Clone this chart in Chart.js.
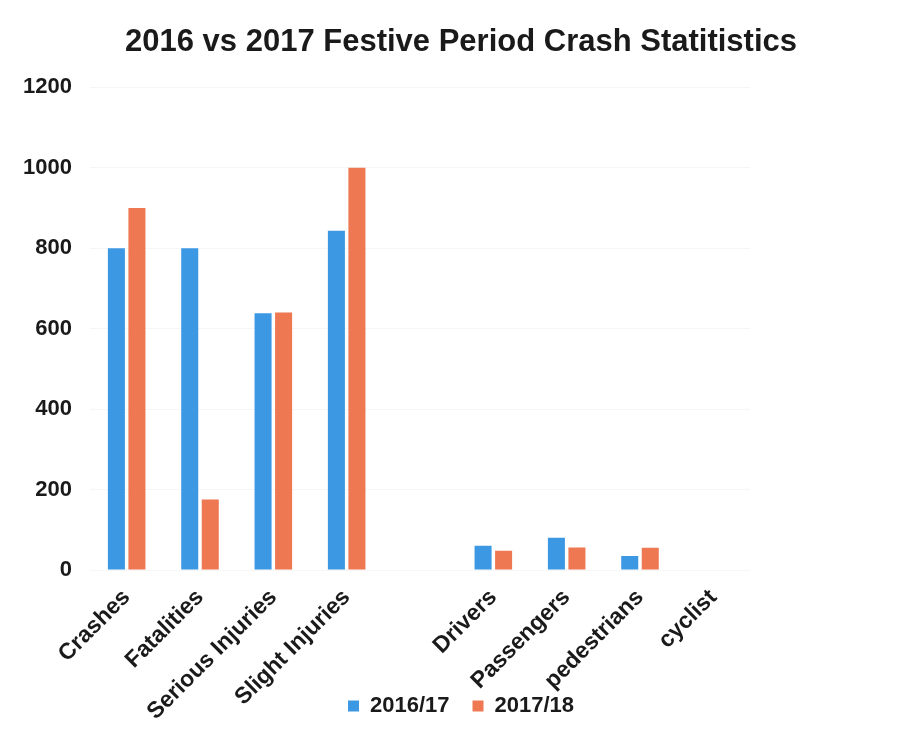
<!DOCTYPE html>
<html>
<head>
<meta charset="utf-8">
<title>Festive Period Crash Statistics</title>
<script src="https://cdn.jsdelivr.net/npm/chart.js@4.4.1/dist/chart.umd.min.js"></script>
<style>
  html, body { margin: 0; padding: 0; background: #fff; }
  #wrap { width: 922px; height: 741px; }
</style>
</head>
<body>
<div id="wrap"><canvas id="crashChart" width="922" height="741"></canvas></div>
<script>
// categories and series (blank slot separates totals from road-user groups)
const categories = ['Crashes', 'Fatalities', 'Serious Injuries', 'Slight Injuries', '', 'Drivers', 'Passengers', 'pedestrians', 'cyclist'];
const season2016 = [800, 800, 638, 843, null, 60, 80, 35, 0];
const season2017 = [900, 175, 640, 1000, null, 48, 56, 55, 0];
const yTicks = [0, 200, 400, 600, 800, 1000, 1200];

const FONT = "'Liberation Sans', Arial, sans-serif";
const TEXT = '#1a1a1a';
const BLUE = '#3d98e3';
const ORANGE = '#ee7852';
const LEGEND_FONT = 22;
const LEGEND_PAD = 23;

// the legend overlaps the lower end of the rotated category labels: it only
// reserves 1px in the layout and gets its real box back here
const placeLegend = {
    id: 'placeLegend',
    afterLayout(chart) {
        const lg = chart.legend;
        if (!lg) return;
        lg.top = 706 - LEGEND_PAD - LEGEND_FONT / 2;
        lg.height = LEGEND_FONT + 2 * LEGEND_PAD + 10;
        lg.bottom = lg.top + lg.height;
    },
};

const ctx = document.getElementById('crashChart').getContext('2d');
new Chart(ctx, {
    type: 'bar',
    data: {
        labels: categories,
        datasets: [
            { label: '2016/17', data: season2016, backgroundColor: BLUE, borderWidth: 0 },
            { label: '2017/18', data: season2017, backgroundColor: ORANGE, borderWidth: 0 },
        ],
    },
    plugins: [placeLegend],
    options: {
        responsive: false,
        animation: false,
        categoryPercentage: 0.56,
        barPercentage: 0.83,
        layout: { padding: { left: 20, right: 20, top: 0, bottom: 0 } },
        plugins: {
            title: {
                display: true,
                text: '2016 vs 2017 Festive Period Crash Statitistics',
                color: TEXT,
                font: { family: FONT, size: 31, weight: 'bold' },
                padding: { top: 24, bottom: 26 },
            },
            legend: {
                position: 'bottom',
                maxHeight: 1,
                labels: {
                    color: TEXT,
                    font: { family: FONT, size: LEGEND_FONT, weight: 'bold' },
                    boxWidth: 11,
                    boxHeight: 11,
                    padding: LEGEND_PAD,
                },
            },
            tooltip: { enabled: false },
        },
        scales: {
            x: {
                grid: { display: false },
                border: { display: false },
                ticks: {
                    color: TEXT,
                    font: { family: FONT, size: 23, weight: 'bold' },
                    minRotation: 45,
                    maxRotation: 45,
                    autoSkip: false,
                    padding: 6,
                },
                afterFit: scale => { scale.height = 170; },
            },
            y: {
                min: 0,
                max: 1200,
                afterBuildTicks: scale => { scale.ticks = yTicks.map(v => ({ value: v })); },
                grid: { color: '#f6f6f6', drawTicks: false },
                border: { display: false },
                ticks: {
                    color: TEXT,
                    font: { family: FONT, size: 22, weight: 'bold' },
                    padding: 18,
                    callback: v => String(v),
                },
                afterFit: scale => { scale.width = 70; },
            },
            // empty right-hand axis keeps the plot narrower than the title
            spacer: {
                position: 'right',
                grid: { display: false },
                border: { display: false },
                ticks: { display: false },
                afterFit: scale => { scale.width = 152; },
            },
        },
    },
});
</script>
</body>
</html>
